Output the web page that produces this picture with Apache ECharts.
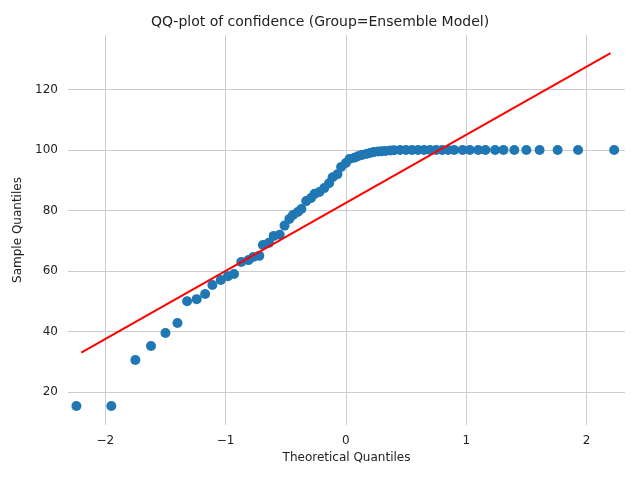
<!DOCTYPE html>
<html><head><meta charset="utf-8">
<script src="https://cdn.jsdelivr.net/npm/echarts@6/dist/echarts.min.js"></script>
<style>html,body{margin:0;padding:0;background:#fff}#c{width:640px;height:480px}</style>
</head><body><div id="c"></div>
<script>
var theoX = [-2.24,-1.95,-1.75,-1.62,-1.50,-1.40,-1.32,-1.24,-1.17,-1.11,-1.04,-0.98,-0.93,-0.87,-0.81,-0.77,-0.72,-0.69,-0.64,-0.60,-0.55,-0.51,-0.47,-0.44,-0.40,-0.37,-0.33,-0.29,-0.26,-0.22,-0.18,-0.14,-0.11,-0.07,-0.04,0.00,0.03,0.07,0.10,0.13,0.17,0.20,0.23,0.27,0.30,0.33,0.37,0.40,0.45,0.50,0.55,0.60,0.65,0.70,0.75,0.80,0.85,0.90,0.97,1.03,1.10,1.16,1.24,1.31,1.40,1.50,1.61,1.76,1.93,2.23];
var sampleY = [15.4,15.4,30.6,35.2,39.5,42.8,50,50.7,52.4,55.4,57,58.3,59,63,63.6,64.6,65,68.6,69.3,71.6,72,75,77.2,78.5,79.5,80.5,83.1,84.1,85.5,86.1,87.4,89,91,92,94.4,95.7,97,97.4,97.9,98.3,98.7,99,99.3,99.5,99.6,99.7,99.8,99.9,100,100,100,100,100,100,100,100,100,100,100,100,100,100,100,100,100,100,100,100,100,100];
var lineX = [-2.2, 2.2];
var lineY = [33, 132];
var xTicks = [-2,-1,0,1,2];
var yTicks = [20,40,60,80,100,120];
var pts = theoX.map(function(x,i){return [x, sampleY[i]];});
var ln = lineX.map(function(x,i){return [x, lineY[i]];});
var font = 'DejaVu Sans';
var chart = echarts.init(document.getElementById('c'));
chart.setOption({
  animation:false,
  title:{text:'QQ-plot of confidence (Group=Ensemble Model)',left:'center',top:10,textStyle:{fontFamily:font,fontSize:14,fontWeight:'normal',color:'#222'}},
  grid:{left:68,right:15,top:35,bottom:55},
  xAxis:{type:'value',min:-2.31,max:2.32,name:'Theoretical Quantiles',nameLocation:'middle',nameGap:24,
    nameTextStyle:{fontFamily:font,fontSize:12,color:'#222'},
    axisLine:{show:false},axisTick:{show:false,customValues:xTicks},
    axisLabel:{fontFamily:font,fontSize:12,color:'#222',customValues:xTicks,margin:10,formatter:function(v){return v<0?'\u2212'+(-v):''+v;}},
    splitLine:{show:true,lineStyle:{color:'#cccccc'}}},
  yAxis:{type:'value',min:9.1,max:138,name:'Sample Quantiles',nameLocation:'middle',nameGap:40,
    nameTextStyle:{fontFamily:font,fontSize:12,color:'#222'},
    axisLine:{show:false},axisTick:{show:false,customValues:yTicks},
    axisLabel:{fontFamily:font,fontSize:12,color:'#222',customValues:yTicks,margin:10},
    splitLine:{show:true,lineStyle:{color:'#cccccc'}}},
  series:[
    {type:'scatter',data:pts,symbolSize:10,itemStyle:{color:'#1f77b4',opacity:1},z:2},
    {type:'line',data:ln,symbol:'none',lineStyle:{color:'#ff0000',width:2},z:3}
  ]
});
</script></body></html>
